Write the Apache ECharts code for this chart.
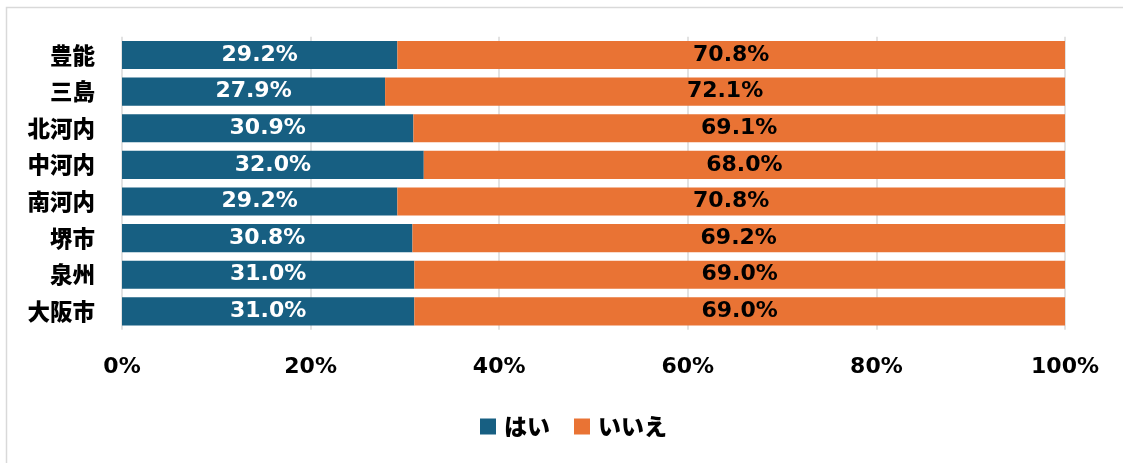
<!DOCTYPE html>
<html><head><meta charset="utf-8">
<script src="https://cdn.jsdelivr.net/npm/echarts@6/dist/echarts.min.js"></script>
<style>html,body{margin:0;padding:0;background:#fff}#c{width:1123px;height:463px}</style>
</head><body><div id="c"></div>
<script>
const categories = ['豊能','三島','北河内','中河内','南河内','堺市','泉州','大阪市'];
const yesValues = [29.2, 27.9, 30.9, 32.0, 29.2, 30.8, 31.0, 31.0];
const noValues = [70.8, 72.1, 69.1, 68.0, 70.8, 69.2, 69.0, 69.0];
const seriesNames = ['はい','いいえ'];
const FONT = '"DejaVu Sans", "Noto Sans CJK JP", sans-serif';
const CJK = '"Noto Sans CJK JP", sans-serif';
const chart = echarts.init(document.getElementById('c'));
chart.setOption({
  animation: false,
  graphic: [{type:'rect', shape:{x:6.5,y:7.5,width:1200,height:500}, style:{fill:'none', stroke:'#d9d9d9', lineWidth:1.5}, z:-1}],
  grid: {left:122, right:58, top:36.7, height:293},
  legend: {
    data: seriesNames, left: 475, top: 410, itemWidth: 16, itemHeight: 16, itemGap: 24,
    icon: 'rect',
    textStyle: {fontFamily: CJK, fontWeight: 900, fontSize: 23, color: '#000', padding: [0,0,0,3]}
  },
  xAxis: {
    type: 'value', min: 0, max: 100, interval: 20,
    axisLine: {show:false}, axisTick: {show:false},
    splitLine: {lineStyle: {color:'#d9d9d9', width:1.5}},
    axisLabel: {formatter: '{value}%', margin: 27, fontFamily: FONT, fontWeight: 'bold', fontSize: 22, color: '#000'}
  },
  yAxis: {
    type: 'category', data: categories, inverse: true,
    axisLine: {show:false}, axisTick: {show:false},
    axisLabel: {margin: 27, fontFamily: CJK, fontWeight: 900, fontSize: 22.5, color: '#000'}
  },
  series: [
    {name: seriesNames[0], type: 'bar', stack: 's', data: yesValues, barCategoryGap: '23%',
     itemStyle: {color: '#175F82'},
     label: {show: true, position: 'inside', formatter: p => p.value.toFixed(1) + '%', fontFamily: FONT, fontWeight: 'bold', fontSize: 22, color: '#fff'}},
    {name: seriesNames[1], type: 'bar', stack: 's', data: noValues, barCategoryGap: '23%',
     itemStyle: {color: '#E97334'},
     label: {show: true, position: 'inside', formatter: p => p.value.toFixed(1) + '%', fontFamily: FONT, fontWeight: 'bold', fontSize: 22, color: '#000'}}
  ]
});
</script></body></html>
